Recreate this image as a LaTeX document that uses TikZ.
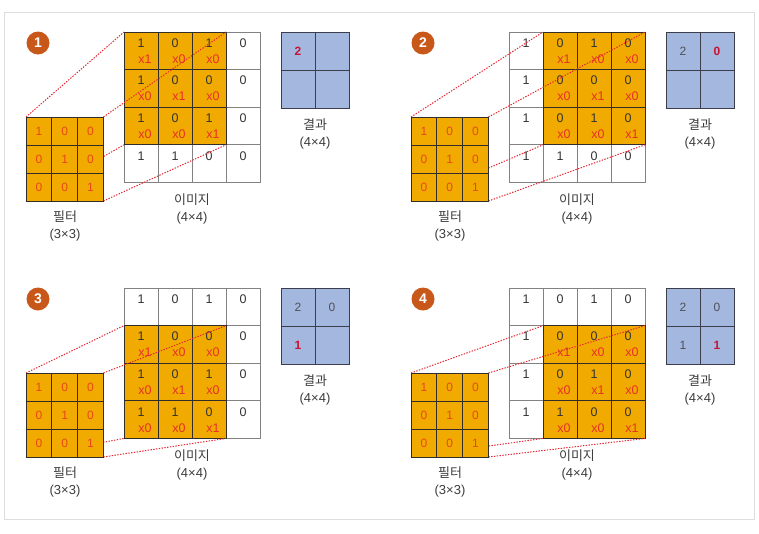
\documentclass[tikz,border=0pt]{standalone}
\usepackage{fontspec}
\setmainfont{Liberation Sans}
\newfontfamily\krfont{Noto Sans CJK KR}
\definecolor{hl}{RGB}{241,170,0}
\definecolor{res}{RGB}{164,183,222}
\definecolor{badge}{RGB}{200,88,26}
\definecolor{mulred}{RGB}{232,48,40}
\definecolor{filtxt}{RGB}{232,72,24}
\definecolor{numgray}{RGB}{51,51,51}
\definecolor{dotred}{RGB}{230,40,50}
\definecolor{gridgray}{RGB}{130,130,130}
\definecolor{griddark}{RGB}{50,45,40}
\definecolor{resline}{RGB}{60,62,75}
\definecolor{resred}{RGB}{200,20,50}
\definecolor{resgray}{RGB}{80,80,90}
\definecolor{lblgray}{RGB}{60,60,60}
\definecolor{framegray}{RGB}{221,221,221}
\newcommand\resR[1]{\textcolor{resred}{\textbf{#1}}}
\newcommand\resG[1]{\textcolor{resgray}{#1}}
\tikzset{
 imgcell/.style={draw=gridgray, line width=0.8pt, fill=white, minimum width=34pt, minimum height=37.6pt, inner sep=0pt, outer sep=0pt, anchor=north west},
 hlcell/.style={imgcell, draw=griddark, fill=hl},
 fltcell/.style={draw=griddark, line width=0.9pt, fill=hl, minimum width=25.8pt, minimum height=28pt, inner sep=0pt, outer sep=0pt, anchor=north west, text=filtxt, font=\fontsize{12}{14}\selectfont},
 rescell/.style={draw=resline, line width=0.9pt, fill=res, minimum width=34pt, minimum height=38pt, inner sep=0pt, outer sep=0pt, anchor=north west, font=\fontsize{12}{14}\selectfont},
 numst/.style={inner sep=0pt, text=numgray, font=\fontsize{12.5}{14}\selectfont},
 mulst/.style={inner sep=0pt, text=mulred, font=\fontsize{12.5}{14}\selectfont},
 lbl/.style={inner sep=0pt, text=lblgray, font=\fontsize{13}{15}\selectfont},
 badgest/.style={circle, fill=badge, text=white, font=\bfseries\fontsize{14}{16}\selectfont, minimum size=23pt, inner sep=0pt},
 dotln/.style={draw=dotred, line width=1pt, dash pattern=on 1.4pt off 1.4pt},
 framest/.style={draw=framegray, line width=1pt}
}
\newcommand\drawpanel[9]{%
 \begin{scope}[shift={(#2,#3)}]
 \pgfmathtruncatemacro\hcr{#4+2}
 \pgfmathtruncatemacro\hrb{#5+2}
 % image cells
 \foreach \r in {0,1,2,3}{
  \foreach \c in {0,1,2,3}{
   \node[imgcell] (p#1-\c-\r) at ({124+34*\c},{32+37.6*\r}) {};
  }
 }
 % highlighted cells and multipliers
 \foreach \dr in {0,1,2}{
  \foreach \dc in {0,1,2}{
   \pgfmathtruncatemacro\cc{#4+\dc}
   \pgfmathtruncatemacro\rr{#5+\dr}
   \pgfmathtruncatemacro\mv{\dc==\dr}
   \node[hlcell] (p#1-h\dc\dr) at (p#1-\cc-\rr.north west) {};
   \node[mulst] (p#1-m\dc\dr) at ([xshift=4pt,yshift=-27pt]p#1-\cc-\rr.north) {x\mv};
  }
 }
 % numbers
 \foreach \r/\row in {0/{1,0,1,0},1/{1,0,0,0},2/{1,0,1,0},3/{1,1,0,0}}{
  \foreach \v [count=\c from 0] in \row {
   \node[numst] (p#1-\c-\r-n) at ([yshift=-11pt]p#1-\c-\r.north) {\v};
  }
 }
 % filter corner positions (filter drawn after the lines)
 \foreach \r in {0,1,2}{
  \foreach \c in {0,1,2}{
   \coordinate (p#1fc-\c-\r) at ({26+25.8*\c},{117+28*\r});
  }
 }
 \coordinate (p#1f-tl) at (26,117);
 \coordinate (p#1f-tr) at ({26+3*25.8},117);
 \coordinate (p#1f-bl) at (26,{117+3*28});
 \coordinate (p#1f-br) at ({26+3*25.8},{117+3*28});
 \draw[dotln] (p#1f-tl) -- (p#1-#4-#5.north west);
 \draw[dotln] (p#1f-tr) -- (p#1-\hcr-#5.north east);
 \draw[dotln] (p#1f-bl) -- (p#1-#4-\hrb.south west);
 \draw[dotln] (p#1f-br) -- (p#1-\hcr-\hrb.south east);
 \foreach \r in {0,1,2}{
  \foreach \c in {0,1,2}{
   \pgfmathtruncatemacro\fv{\c==\r}
   \node[fltcell] (p#1f-\c-\r) at (p#1fc-\c-\r) {\fv};
  }
 }
 % result
 \node[rescell] (p#1r-0-0) at (281,32) {#6};
 \node[rescell] (p#1r-1-0) at (315,32) {#7};
 \node[rescell] (p#1r-0-1) at (281,70) {#8};
 \node[rescell] (p#1r-1-1) at (315,70) {#9};
 % badge
 \node[badgest] (p#1b) at (38,43) {#1};
 % labels
 \node[lbl] (p#1fl1) at (65,217) {\krfont 필터};
 \node[lbl] (p#1fl2) at (65,235) {(3×3)};
 \node[lbl] (p#1il1) at (192,200) {\krfont 이미지};
 \node[lbl] (p#1il2) at (192,218) {(4×4)};
 \node[lbl] (p#1rl1) at (315,125) {\krfont 결과};
 \node[lbl] (p#1rl2) at (315,143) {(4×4)};
 \end{scope}
}
\begin{document}
\begin{tikzpicture}[x=1pt,y=-1pt]
\useasboundingbox (0,0) rectangle (759,533);
\draw[framest] (4.5,12.5) rectangle (754,519);
\drawpanel{1}{0}{0}{0}{0}{\resR{2}}{}{}{}
\drawpanel{2}{385}{0}{1}{0}{\resG{2}}{\resR{0}}{}{}
\drawpanel{3}{0}{256}{0}{1}{\resG{2}}{\resG{0}}{\resR{1}}{}
\drawpanel{4}{385}{256}{1}{1}{\resG{2}}{\resG{0}}{\resG{1}}{\resR{1}}
\end{tikzpicture}
\end{document}
